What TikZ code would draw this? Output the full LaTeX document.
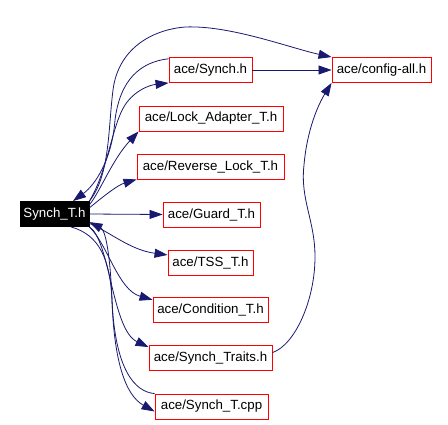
\documentclass[tikz,border=0pt]{standalone}
\usepackage{fontspec}
\setmainfont{Liberation Sans}
\usetikzlibrary{arrows.meta}
\definecolor{edgeblue}{HTML}{191970}
\definecolor{boxred}{HTML}{FF0000}

\begin{document}
\begin{tikzpicture}[
    x=1pt, y=-1pt,
    file/.style={draw=boxred, line width=0.9pt, minimum height=25pt, inner sep=0pt,
                 font=\fontsize{13.3}{16}\selectfont},
    root/.style={file, draw=black, fill=black, text=white},
    inc/.style={draw=edgeblue, line width=0.8pt, -{Triangle[length=13pt, width=9pt]}, edgeblue}
]

% 1. Canvas
\useasboundingbox (0,0) rectangle (448,424);

% 2. Files
\node[root, minimum width=69pt]  (synchth) at (54.5,214)   {Synch\_T.h};
\node[file, minimum width=83pt]  (synch)   at (210.5,70)   {ace/Synch.h};
\node[file, minimum width=99pt]  (config)  at (381.5,70)   {ace/config-all.h};
\node[file, minimum width=144pt] (lockad)  at (211,118.5)  {ace/Lock\_Adapter\_T.h};
\node[file, minimum width=147pt] (revlock) at (210.5,166.5) {ace/Reverse\_Lock\_T.h};
\node[file, minimum width=97pt]  (guard)   at (211.5,214.5) {ace/Guard\_T.h};
\node[file, minimum width=85pt]  (tss)     at (210.5,262.5) {ace/TSS\_T.h};
\node[file, minimum width=115pt] (cond)    at (210.5,310)  {ace/Condition\_T.h};
\node[file, minimum width=123pt] (traits)  at (210.5,358)  {ace/Synch\_Traits.h};
\node[file, minimum width=113pt] (cpp)     at (211.5,406.5) {ace/Synch\_T.cpp};

% 3. Include edges
\draw[inc] (synchth.north east) .. controls (110,175) and (108,130) .. (113,90)
           .. controls (118,50) and (150,30) .. (185,27)
           .. controls (230,25) and (290,48) .. (config.north west);
\draw[inc] (synchth.north east) .. controls (108,170) and (112,125) .. (125,105)
           .. controls (135,90) and (150,85) .. (synch.south west);
\draw[inc] (synch.165) .. controls (140,62) and (120,80) .. (115,120)
           .. controls (112,160) and (95,185) .. (synchth.35);
\draw[inc] (synchth.15) .. controls (100,192) and (112,160) .. (lockad.south west);
\draw[inc] (synchth.10) .. controls (105,195) and (118,185) .. (revlock.south west);
\draw[inc] (synchth.east) -- (guard.west);
\draw[inc] (synchth.-15) .. controls (110,232) and (130,250) .. (tss.170);
\draw[inc] (synchth.south east) .. controls (108,245) and (118,290) .. (cond.170);
\draw[inc] (synchth.south east) .. controls (110,240) and (112,330) .. (traits.170);
\draw[inc] (synchth.-38) .. controls (100,235) and (110,260) .. (112,300)
           .. controls (114,360) and (125,395) .. (cpp.185);
\draw[inc] (cpp.north west) .. controls (135,392) and (115,370) .. (112,300)
           .. controls (110,250) and (105,230) .. (synchth.-13);
\draw[inc] (synch.east) -- (config.west);
\draw[inc] (traits.5) .. controls (295,345) and (315,300) .. (315,257)
           .. controls (315,220) and (300,200) .. (304,165)
           .. controls (307,130) and (318,105) .. (config.south west);

\end{tikzpicture}
\end{document}
